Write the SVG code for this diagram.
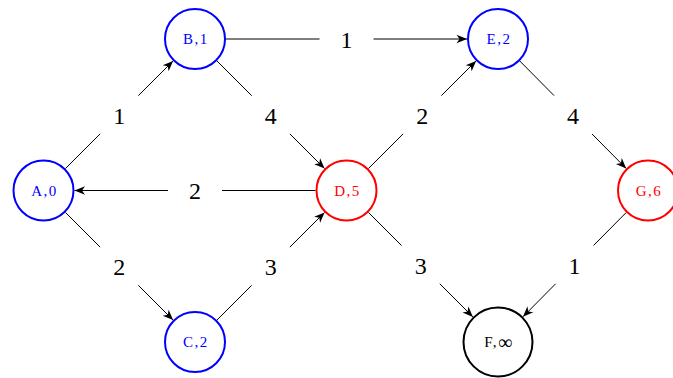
<svg xmlns="http://www.w3.org/2000/svg" width="673" height="378" viewBox="0 0 673 378">
<defs>
<marker id="arr" viewBox="-11 -5 12 10" refX="0" refY="0" markerWidth="12" markerHeight="10" orient="auto" markerUnits="userSpaceOnUse">
<path d="M0,0 L-10.5,-4.2 L-7.5,0 L-10.5,4.2 Z" fill="#000"/>
</marker>
</defs>
<style>
.n{fill:#fff;stroke-width:2}
.blue{stroke:#0000ff}
.red{stroke:#ff0000}
.blk{stroke:#000}
.nt{font-family:"Liberation Serif",serif;font-size:15px;letter-spacing:1.5px;text-anchor:middle;dominant-baseline:central}
.e{stroke:#000;stroke-width:1;fill:none}
.lb{font-family:"Liberation Serif",serif;font-size:24px;text-anchor:middle;dominant-baseline:central;fill:#000}
</style>
<rect width="673" height="378" fill="#fff"/>
<g id="connectors">
<g id="e-AB"><line class="e" x1="65.42" y1="168.58" x2="100.16" y2="133.84"/><line class="e" x1="138.34" y1="95.66" x2="173.08" y2="60.92" marker-end="url(#arr)"/><text class="lb" x="119.25" y="115.5">1</text></g>
<g id="e-AC"><line class="e" x1="65.42" y1="212.42" x2="100.16" y2="247.16"/><line class="e" x1="138.34" y1="285.34" x2="173.08" y2="320.08" marker-end="url(#arr)"/><text class="lb" x="119.25" y="267">2</text></g>
<g id="e-BE"><line class="e" x1="226" y1="39" x2="319.5" y2="39"/><line class="e" x1="373.5" y1="39" x2="467" y2="39" marker-end="url(#arr)"/><text class="lb" x="346.5" y="39.8">1</text></g>
<g id="e-BD"><line class="e" x1="216.92" y1="60.92" x2="251.66" y2="95.66"/><line class="e" x1="289.84" y1="133.84" x2="324.58" y2="168.58" marker-end="url(#arr)"/><text class="lb" x="270.75" y="115.5">4</text></g>
<g id="e-CD"><line class="e" x1="216.92" y1="320.08" x2="251.66" y2="285.34"/><line class="e" x1="289.84" y1="247.16" x2="324.58" y2="212.42" marker-end="url(#arr)"/><text class="lb" x="270.75" y="267">3</text></g>
<g id="e-DA"><line class="e" x1="315.5" y1="190.5" x2="222" y2="190.5"/><line class="e" x1="168" y1="190.5" x2="74.5" y2="190.5" marker-end="url(#arr)"/><text class="lb" x="195" y="191.3">2</text></g>
<g id="e-DE"><line class="e" x1="368.42" y1="168.58" x2="403.16" y2="133.84"/><line class="e" x1="441.34" y1="95.66" x2="476.08" y2="60.92" marker-end="url(#arr)"/><text class="lb" x="422.25" y="115.5">2</text></g>
<g id="e-DF"><line class="e" x1="368.42" y1="212.42" x2="401.58" y2="245.58"/><line class="e" x1="439.76" y1="283.76" x2="472.90" y2="316.90" marker-end="url(#arr)"/><text class="lb" x="420.67" y="265.5">3</text></g>
<g id="e-EG"><line class="e" x1="519.81" y1="61.03" x2="554.0" y2="95.56"/><line class="e" x1="592.0" y1="133.94" x2="626.19" y2="168.47" marker-end="url(#arr)"/><text class="lb" x="573" y="115.5">4</text></g>
<g id="e-GF"><line class="e" x1="626.19" y1="212.53" x2="593.58" y2="245.46"/><line class="e" x1="555.58" y1="283.84" x2="522.98" y2="316.77" marker-end="url(#arr)"/><text class="lb" x="574.58" y="265.5">1</text></g>
</g>
<g id="A"><circle class="n blue" cx="43.5" cy="190.5" r="30"/><text class="nt" x="44.5" y="190.5" fill="#0000ff">A,0</text></g>
<g id="B"><circle class="n blue" cx="195" cy="39" r="30"/><text class="nt" x="196" y="39" fill="#0000ff">B,1</text></g>
<g id="C"><circle class="n blue" cx="195" cy="342" r="30"/><text class="nt" x="196" y="342" fill="#0000ff">C,2</text></g>
<g id="D"><circle class="n red" cx="346.5" cy="190.5" r="30"/><text class="nt" x="347.5" y="190.5" fill="#ff0000">D,5</text></g>
<g id="E"><circle class="n blue" cx="498" cy="39" r="30"/><text class="nt" x="499" y="39" fill="#0000ff">E,2</text></g>
<g id="F"><circle class="n blk" cx="498" cy="342" r="34.5"/><text class="nt" x="499" y="342" fill="#000">F,<tspan font-size="20px">∞</tspan></text></g>
<g id="G"><circle class="n red" cx="648" cy="190.5" r="30"/><text class="nt" x="649" y="190.5" fill="#ff0000">G,6</text></g>
</svg>
